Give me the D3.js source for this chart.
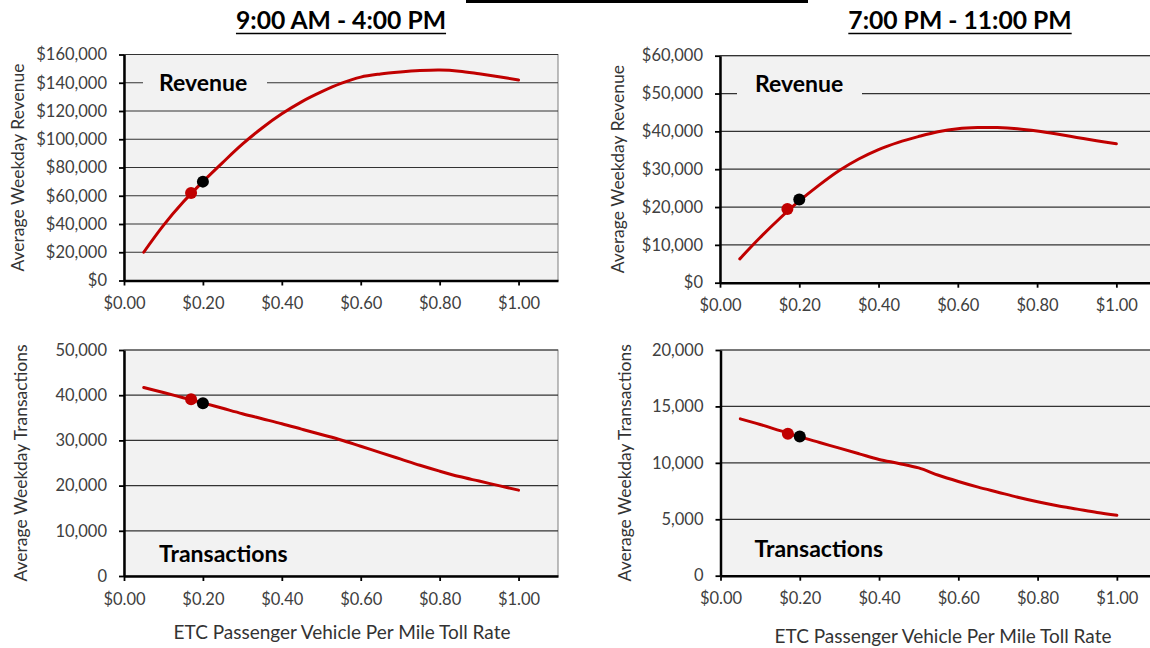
<!DOCTYPE html>
<html>
<head>
<meta charset="utf-8">
<script src="https://cdn.jsdelivr.net/npm/d3@7"></script>
<style>
  html, body { margin: 0; padding: 0; background: #ffffff; }
  svg { display: block; font-family: Lato, "Open Sans", sans-serif; }
</style>
</head>
<body>
<svg id="chart" width="1150" height="648"></svg>
<script>
// Toll rate scenarios ($ per mile, ETC passenger vehicles)
const rates = [0.05, 0.10, 0.15, 0.20, 0.25, 0.30, 0.35, 0.40, 0.45, 0.50,
               0.55, 0.60, 0.65, 0.70, 0.75, 0.80, 0.85, 0.90, 0.95, 1.00];

// Midday period, 9:00 AM - 4:00 PM
const dayRevenue = [20000, 39000, 55500, 70000, 83500, 96500, 108000, 118000, 126500, 133500,
                    139500, 144000, 146200, 147600, 148600, 149000, 148200, 146300, 144200, 142000];
const dayTransactions = [41700, 40600, 39450, 38300, 37100, 35900, 34800, 33700, 32500, 31300,
                         30100, 28700, 27300, 25900, 24500, 23200, 22000, 21000, 20000, 19000];

// Evening period, 7:00 PM - 11:00 PM
const eveningRevenue = [6300, 11800, 16900, 21600, 25800, 29600, 32700, 35200, 37100, 38600,
                        39900, 40700, 41000, 41000, 40700, 40100, 39300, 38400, 37500, 36700];
const eveningTransactions = [13900, 13400, 12850, 12300, 11800, 11300, 10800, 10300, 9950, 9550,
                             8900, 8350, 7850, 7400, 6950, 6550, 6200, 5900, 5600, 5350];

// Highlighted scenarios: current rate (red) and proposed rate (black)
const markerRates = [0.17, 0.20];
const markerColors = ["#c00000", "#000000"];
const dayRevenueMarkers = [62000, 70000];
const dayTransactionMarkers = [39100, 38200];
const eveningRevenueMarkers = [19500, 22000];
const eveningTransactionMarkers = [12580, 12330];

// Axis ticks
const rateTicks = [0, 0.2, 0.4, 0.6, 0.8, 1.0];
const dayRevenueTicks = [0, 20000, 40000, 60000, 80000, 100000, 120000, 140000, 160000];
const eveningRevenueTicks = [0, 10000, 20000, 30000, 40000, 50000, 60000];
const dayTransactionTicks = [0, 10000, 20000, 30000, 40000, 50000];
const eveningTransactionTicks = [0, 5000, 10000, 15000, 20000];

const periodTitles = ["9:00 AM - 4:00 PM", "7:00 PM - 11:00 PM"];
const revenueAxisTitle = "Average Weekday Revenue";
const transactionAxisTitle = "Average Weekday Transactions";
const rateAxisTitle = "ETC Passenger Vehicle Per Mile Toll Rate";

const svg = d3.select("#chart");
const lineRed = "#c00000";
const textGrey = "#404040";

// Decorative rule across the top of the page
svg.append("rect").attr("x", 466).attr("y", 0).attr("width", 342).attr("height", 3).attr("fill", "#000");

// Period headings, underlined
[[periodTitles[0], 341, 29], [periodTitles[1], 960, 29]].forEach(([t, cx, by]) => {
  const txt = svg.append("text")
    .attr("x", cx).attr("y", by)
    .attr("text-anchor", "middle")
    .attr("font-size", 24.7).attr("font-weight", 700)
    .attr("fill", "#000")
    .text(t);
  const bb = txt.node().getBBox();
  svg.append("line")
    .attr("x1", bb.x).attr("x2", bb.x + bb.width)
    .attr("y1", by + 4.5).attr("y2", by + 4.5)
    .attr("stroke", "#000").attr("stroke-width", 1.6);
});

const panels = [
  { left: 124, top: 54.5, bottom: 280.5, width: 434, ymax: 160000, yTicks: dayRevenueTicks,
    yFmt: d3.format("$,"), values: dayRevenue, markers: dayRevenueMarkers,
    yTitle: revenueAxisTitle, yTitleX: 18, label: "Revenue", labelDx: 35, labelDy: 28,
    box: [19, 124], xTitle: null },
  { left: 720, top: 55.7, bottom: 282.7, width: 436, ymax: 60000, yTicks: eveningRevenueTicks,
    yFmt: d3.format("$,"), values: eveningRevenue, markers: eveningRevenueMarkers,
    yTitle: revenueAxisTitle, yTitleX: 618, label: "Revenue", labelDx: 35, labelDy: 28.5,
    box: [17, 125], xTitle: null },
  { left: 124, top: 350, bottom: 576, width: 434, ymax: 50000, yTicks: dayTransactionTicks,
    yFmt: d3.format(","), values: dayTransactions, markers: dayTransactionMarkers,
    yTitle: transactionAxisTitle, yTitleX: 21, label: "Transactions", labelDx: 35, labelDy: 204,
    box: null, xTitle: [342, 632] },
  { left: 720.5, top: 350, bottom: 575.7, width: 436, ymax: 20000, yTicks: eveningTransactionTicks,
    yFmt: d3.format(","), values: eveningTransactions, markers: eveningTransactionMarkers,
    yTitle: transactionAxisTitle, yTitleX: 625, label: "Transactions", labelDx: 34, labelDy: 199,
    box: null, xTitle: [943, 636] }
];

panels.forEach(p => {
  const h = p.bottom - p.top;
  const x = d3.scaleLinear().domain([0, 1.1]).range([0, p.width]);
  const y = d3.scaleLinear().domain([0, p.ymax]).range([h, 0]);
  const g = svg.append("g").attr("transform", `translate(${p.left},${p.top})`);

  // plot area
  g.append("rect").attr("width", p.width).attr("height", h)
    .attr("fill", "#f2f2f2").attr("stroke", "#7f7f7f").attr("stroke-width", 1);

  // horizontal gridlines
  g.selectAll("line.grid").data(p.yTicks.filter(v => v > 0)).join("line")
    .attr("class", "grid")
    .attr("x1", 0).attr("x2", p.width)
    .attr("y1", d => y(d)).attr("y2", d => y(d))
    .attr("stroke", "#333").attr("stroke-width", 1.2);

  // in-plot label, boxed to break the gridline behind it
  if (p.box) {
    g.append("rect").attr("x", p.box[0]).attr("y", p.labelDy - 14)
      .attr("width", p.box[1]).attr("height", 29).attr("fill", "#f2f2f2");
  }
  g.append("text")
    .attr("x", p.labelDx).attr("y", p.labelDy)
    .attr("dy", "0.36em")
    .attr("font-size", 23).attr("font-weight", 700).attr("fill", "#000")
    .text(p.label);

  // curve
  const line = d3.line()
    .x((d, i) => x(rates[i]))
    .y(d => y(d))
    .curve(d3.curveCatmullRom.alpha(0.5));
  g.append("path").datum(p.values)
    .attr("d", line)
    .attr("fill", "none").attr("stroke", lineRed)
    .attr("stroke-width", 3).attr("stroke-linejoin", "round").attr("stroke-linecap", "round");

  // scenario markers
  g.selectAll("circle.marker").data(p.markers).join("circle")
    .attr("class", "marker")
    .attr("cx", (d, i) => x(markerRates[i]))
    .attr("cy", d => y(d))
    .attr("r", 6)
    .attr("fill", (d, i) => markerColors[i]);

  // y axis
  const ya = g.append("g").call(
    d3.axisLeft(y).tickValues(p.yTicks).tickFormat(p.yFmt).tickSize(5).tickSizeOuter(0).tickPadding(12));
  ya.select(".domain").attr("stroke", "#000").attr("stroke-width", 2.5);
  ya.selectAll(".tick line").attr("stroke", "#000").attr("stroke-width", 1.8);
  ya.selectAll(".tick text").attr("font-size", 16.5).attr("fill", textGrey)
    .attr("font-family", "Lato, 'Open Sans', sans-serif");

  // x axis
  const xa = g.append("g").attr("transform", `translate(0,${h})`).call(
    d3.axisBottom(x).tickValues(rateTicks).tickFormat(d3.format("$.2f")).tickSize(5).tickSizeOuter(0).tickPadding(12));
  xa.select(".domain").attr("stroke", "#000").attr("stroke-width", 2.5);
  xa.selectAll(".tick line").attr("stroke", "#000").attr("stroke-width", 1.8);
  xa.selectAll(".tick text").attr("font-size", 16.5).attr("fill", textGrey)
    .attr("font-family", "Lato, 'Open Sans', sans-serif");

  // y axis title
  const cy = p.top + h / 2;
  svg.append("text")
    .attr("transform", `translate(${p.yTitleX},${cy}) rotate(-90)`)
    .attr("text-anchor", "middle").attr("dy", "0.35em")
    .attr("font-size", 17.5).attr("fill", "#333")
    .text(p.yTitle);

  // x axis title under the lower panels
  if (p.xTitle) {
    svg.append("text")
      .attr("x", p.xTitle[0]).attr("y", p.xTitle[1])
      .attr("text-anchor", "middle").attr("dy", "0.35em")
      .attr("font-size", 19).attr("fill", "#333")
      .text(rateAxisTitle);
  }
});
</script>
</body>
</html>
